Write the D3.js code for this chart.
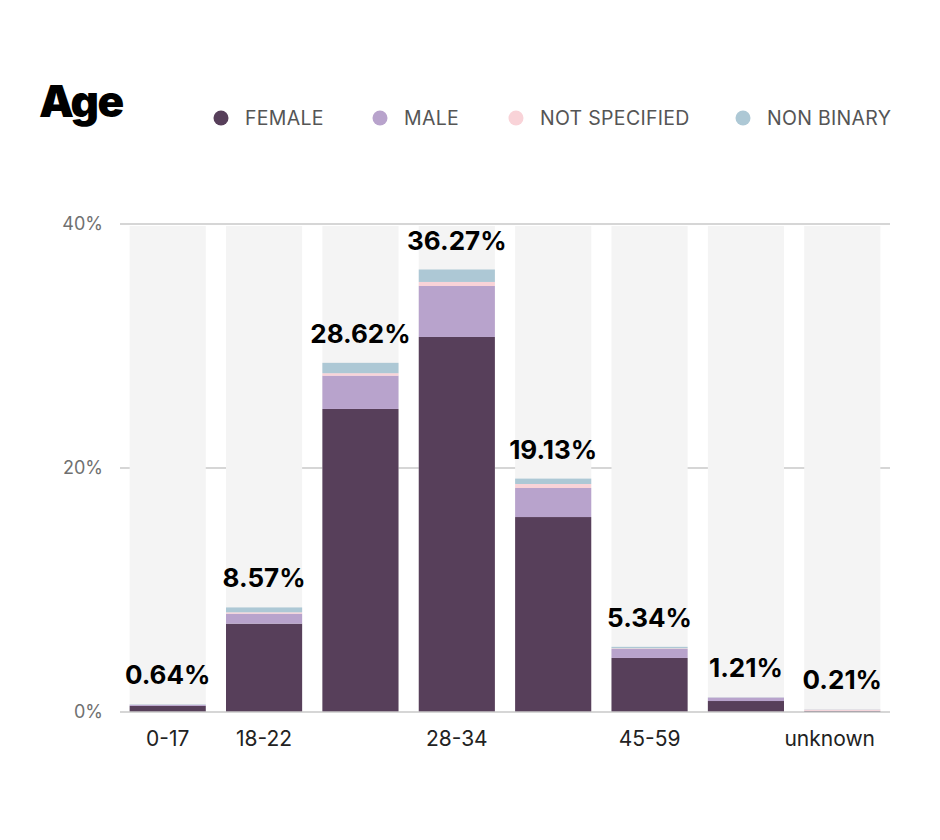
<!DOCTYPE html>
<html>
<head>
<meta charset="utf-8">
<script src="https://cdn.jsdelivr.net/npm/d3@7"></script>
<style>
  body { margin: 0; background: #fff; }
  svg { font-family: Inter, "Noto Sans", sans-serif; }
</style>
</head>
<body>
<div id="chart"></div>
<script>
const categories = ["0-17", "18-22", "23-27", "28-34", "35-44", "45-59", "60+", "unknown"];
const shownLabels = ["0-17", "18-22", "28-34", "45-59", "unknown"];
const seriesNames = ["FEMALE", "MALE", "NOT SPECIFIED", "NON BINARY"];
const female       = [0.50, 7.24, 24.84, 30.74, 15.98, 4.43, 0.90, 0.08];
const male         = [0.08, 0.82,  2.73,  4.18,  2.38, 0.74, 0.28, 0.02];
const notSpecified = [0.02, 0.11,  0.20,  0.33,  0.33, 0.05, 0.01, 0.09];
const nonBinary    = [0.04, 0.40,  0.85,  1.02,  0.44, 0.12, 0.02, 0.02];
const totals       = ["0.64%", "8.57%", "28.62%", "36.27%", "19.13%", "5.34%", "1.21%", "0.21%"];
const yTicks = [0, 20, 40];

const colors = ["#573f5a", "#b8a3cc", "#f9d3d8", "#adc8d5"];
const width = 940, height = 840;

const svg = d3.select("#chart").append("svg")
    .attr("width", width)
    .attr("height", height);

const rows = categories.map((c, i) => ({
    cat: c,
    "FEMALE": female[i],
    "MALE": male[i],
    "NOT SPECIFIED": notSpecified[i],
    "NON BINARY": nonBinary[i],
    total: totals[i]
}));

const x = d3.scaleBand()
    .domain(categories)
    .range([120, 890])
    .paddingInner(0.21)
    .paddingOuter(0.1);

const y = d3.scaleLinear()
    .domain([0, 40])
    .range([712, 224]);

// title
svg.append("text")
    .attr("x", 39)
    .attr("y", 117)
    .attr("font-size", 44)
    .attr("font-weight", 900)
    .attr("letter-spacing", -1.5)
    .attr("fill", "#000")
    .text("Age");

// legend
const legendX = [221, 380, 516, 743];
const legend = svg.selectAll("g.legend")
    .data(seriesNames)
    .join("g")
    .attr("class", "legend")
    .attr("transform", (d, i) => `translate(${legendX[i]},118)`);
legend.append("circle")
    .attr("r", 7.5)
    .attr("fill", (d, i) => colors[i]);
legend.append("text")
    .attr("x", 24)
    .attr("dy", "0.36em")
    .attr("font-size", 19.5)
    .attr("letter-spacing", 0.3)
    .attr("fill", "#555")
    .text(d => d);

// gridlines
svg.selectAll("line.grid")
    .data(yTicks.filter(t => t > 0))
    .join("line")
    .attr("class", "grid")
    .attr("x1", 120).attr("x2", 890)
    .attr("y1", d => y(d)).attr("y2", d => y(d))
    .attr("stroke", "#c8c8c8")
    .attr("stroke-width", 1.5);

// y tick labels
svg.selectAll("text.ytick")
    .data(yTicks)
    .join("text")
    .attr("class", "ytick")
    .attr("x", 103)
    .attr("y", d => y(d))
    .attr("dy", "0.36em")
    .attr("text-anchor", "end")
    .attr("font-size", 18)
    .attr("fill", "#707070")
    .text(d => d + "%");

// background columns
svg.selectAll("rect.bg")
    .data(categories)
    .join("rect")
    .attr("class", "bg")
    .attr("x", d => x(d))
    .attr("width", x.bandwidth())
    .attr("y", y(40) + 2)
    .attr("height", y(0) - y(40) - 2)
    .attr("fill", "#f4f4f4");

// stacked bars
const stack = d3.stack().keys(seriesNames)(rows);
svg.selectAll("g.series")
    .data(stack)
    .join("g")
    .attr("class", "series")
    .attr("fill", (d, i) => colors[i])
    .selectAll("rect")
    .data(d => d)
    .join("rect")
    .attr("x", d => x(d.data.cat))
    .attr("width", x.bandwidth())
    .attr("y", d => y(d[1]))
    .attr("height", d => y(d[0]) - y(d[1]));

// baseline
svg.append("line")
    .attr("x1", 120).attr("x2", 890)
    .attr("y1", y(0)).attr("y2", y(0))
    .attr("stroke", "#c8c8c8")
    .attr("stroke-width", 1.5);

// totals
const topLayer = stack[stack.length - 1];
svg.selectAll("text.total")
    .data(topLayer)
    .join("text")
    .attr("class", "total")
    .attr("x", d => x(d.data.cat) + x.bandwidth() / 2)
    .attr("y", d => y(d[1]) - 20)
    .attr("text-anchor", "middle")
    .attr("font-size", 26)
    .attr("font-weight", 700)
    .attr("fill", "#000")
    .text(d => d.data.total);

// x labels (last one kept inside the plot edge)
const lastCat = categories[categories.length - 1];
svg.selectAll("text.xlab")
    .data(categories)
    .join("text")
    .attr("class", "xlab")
    .attr("x", d => d === lastCat ? 875 : x(d) + x.bandwidth() / 2)
    .attr("y", 746)
    .attr("text-anchor", d => d === lastCat ? "end" : "middle")
    .attr("font-size", 21)
    .attr("fill", "#222")
    .text(d => shownLabels.includes(d) ? d : "");
</script>
</body>
</html>
